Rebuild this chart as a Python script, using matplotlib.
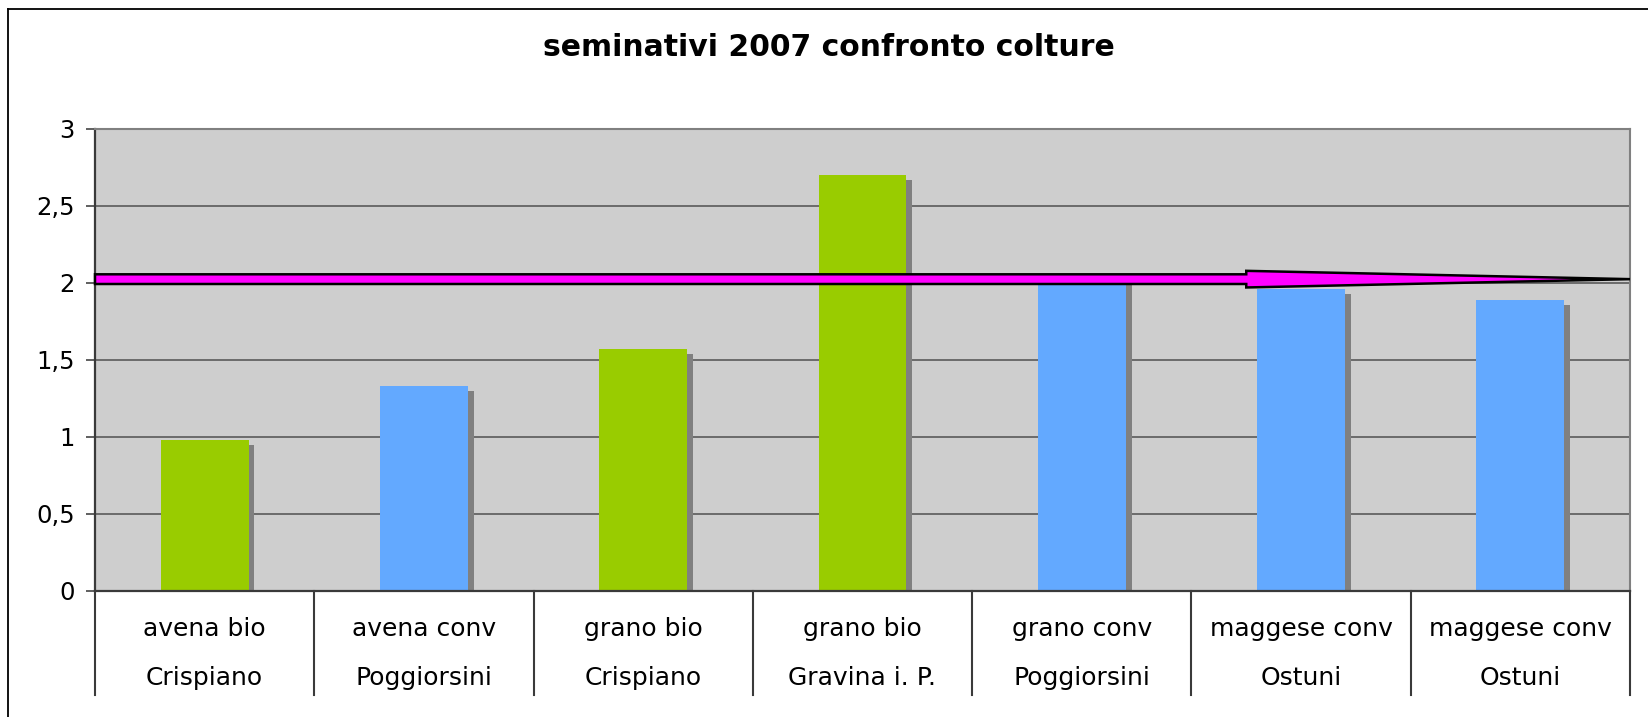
import matplotlib
matplotlib.use("Agg")
import matplotlib.pyplot as plt
import matplotlib.patheffects as pe
from matplotlib.transforms import blended_transform_factory
import numpy as np

# data
colture = ["avena bio", "avena conv", "grano bio", "grano bio",
           "grano conv", "maggese conv", "maggese conv"]
localita = ["Crispiano", "Poggiorsini", "Crispiano", "Gravina i. P.",
            "Poggiorsini", "Ostuni", "Ostuni"]
valori = [0.98, 1.33, 1.57, 2.70, 2.02, 1.96, 1.89]
tipo = ["bio", "conv", "bio", "bio", "conv", "conv", "conv"]
yticks = [0, 0.5, 1, 1.5, 2, 2.5, 3]

# arrow annotation (level in data units, head start in category units)
arrow_level = 2.025
arrow_head_start = 4.75

colori = {"bio": "#99cc00", "conv": "#63a9ff"}

fig = plt.figure(figsize=(16.48, 7.17), dpi=100)
ax = fig.add_axes([95/1648, 1-591/717, (1630-95)/1648, (591-129)/717])
ax.set_facecolor("#cecece")
ax.set_axisbelow(True)

x = np.arange(len(valori))
bars = ax.bar(x, valori, width=0.4, color=[colori[t] for t in tipo], linewidth=0, zorder=2)
for b in bars:
    b.set_path_effects([pe.SimplePatchShadow(offset=(4.3, -3.6), shadow_rgbFace="#808080", alpha=1.0),
                        pe.Normal()])

ax.set_xlim(-0.5, len(valori)-0.5)
ax.set_ylim(0, 3)
ax.set_yticks(yticks)
ax.set_yticklabels([("%g" % v).replace(".", ",") for v in yticks], fontsize=17.5)
ax.yaxis.grid(True, color="#5a5a5a", linewidth=1.2)
ax.tick_params(axis="y", length=6.5, width=1.2, color="#444444", pad=8)
ax.set_xticks([])

for s in ["top", "right"]:
    ax.spines[s].set_color("#808080")
    ax.spines[s].set_linewidth(1.5)
for s in ["left", "bottom"]:
    ax.spines[s].set_color("#3a3a3a")
    ax.spines[s].set_linewidth(1.6)

# arrow
h_shaft = 0.0315
h_head = 0.054
x0, x1 = -0.5, len(valori)-0.5
px = [x0, arrow_head_start, arrow_head_start, x1, arrow_head_start, arrow_head_start, x0]
py = [arrow_level+h_shaft, arrow_level+h_shaft, arrow_level+h_head, arrow_level,
      arrow_level-h_head, arrow_level-h_shaft, arrow_level-h_shaft]
ax.fill(px, py, facecolor="#ff00ff", edgecolor="black", linewidth=1.8, zorder=4,
        joinstyle="miter", clip_on=False)

# category table below the axis
trans = blended_transform_factory(ax.transData, ax.transAxes)
for b in np.arange(-0.5, len(valori), 1.0):
    ax.plot([b, b], [0, -104/462], transform=trans, color="#3a3a3a",
            linewidth=1.5, clip_on=False)
for i in range(len(valori)):
    ax.text(i, -38/462, colture[i], transform=trans, ha="center", va="center", fontsize=18)
    ax.text(i, -87/462, localita[i], transform=trans, ha="center", va="center", fontsize=18)

fig.text(0.503, 1-48/717, "seminativi 2007 confronto colture", ha="center", va="center",
         fontsize=21.5, fontweight="bold")

# outer chart border
fig.add_artist(plt.Line2D([8/1648, 8/1648], [0, 1-9/717], color="black", linewidth=1.3))
fig.add_artist(plt.Line2D([8/1648, 1], [1-9/717, 1-9/717], color="black", linewidth=1.3))

fig.savefig("out.png", dpi=100)
